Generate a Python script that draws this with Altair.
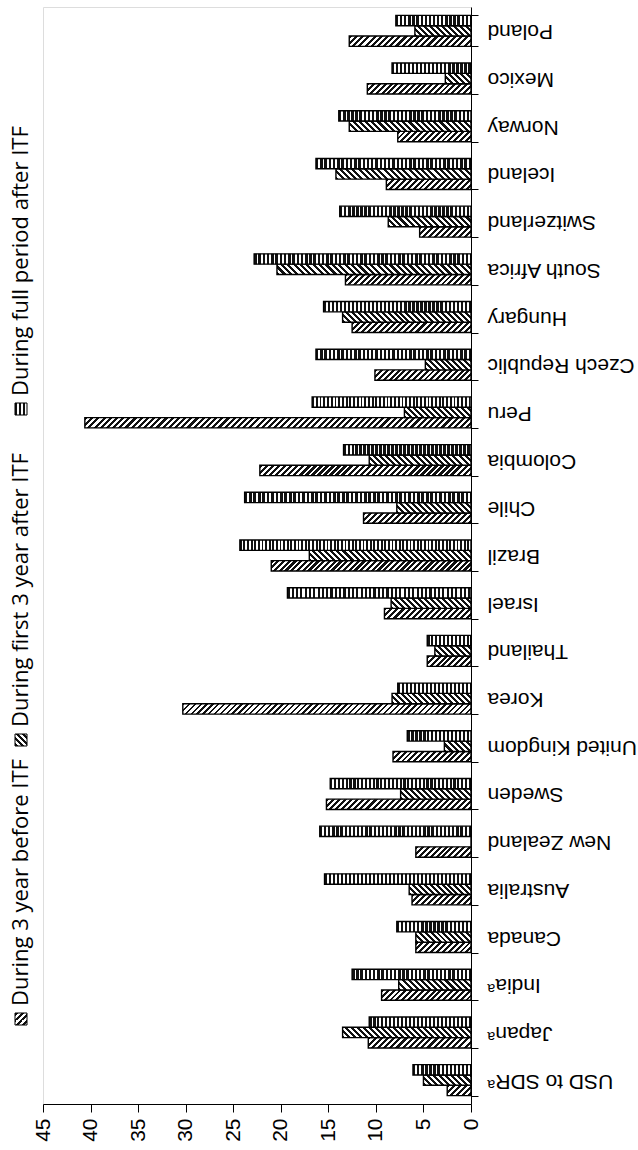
import math
import altair as alt

# ---------------- data ----------------
COUNTRIES = ["USD to SDRᵃ", "Japanᵃ", "Indiaᵃ", "Canada", "Australia", "New Zealand",
             "Sweden", "United Kingdom", "Korea", "Thailand", "Israel", "Brazil", "Chile",
             "Colombia", "Peru", "Czech Republic", "Hungary", "South Africa", "Switzerland",
             "Iceland", "Norway", "Mexico", "Poland"]
SERIES = ["During 3 year before ITF", "During first 3 year after ITF", "During full period after ITF"]
BEFORE = [2.5, 10.8, 9.4, 5.8, 6.2, 5.8, 15.2, 8.2, 30.3, 4.6, 9.1, 21.0, 11.3,
          22.2, 40.6, 10.1, 12.5, 13.2, 5.4, 8.9, 7.7, 10.9, 12.8]
FIRST3 = [5.0, 13.5, 7.6, 5.8, 6.5, 0.0, 7.4, 2.8, 8.3, 3.8, 8.4, 17.0, 7.8,
          10.7, 7.0, 4.8, 13.5, 20.4, 8.7, 14.2, 12.8, 2.7, 5.9]
FULL = [6.1, 10.7, 12.5, 7.8, 15.4, 15.9, 14.8, 6.7, 7.7, 4.6, 19.3, 24.3, 23.8,
        13.4, 16.7, 16.3, 15.5, 22.8, 13.8, 16.3, 13.9, 8.3, 7.9]
X_TICKS = [0, 5, 10, 15, 20, 25, 30, 35, 40, 45]

# ---------------- layout ----------------
PLOT_W, PLOT_H = 428, 1097
PAD = {"left": 43, "top": 7, "right": 638 - 43 - PLOT_W, "bottom": 1150 - 7 - PLOT_H}
X_MAX = 45
BAND_PAD = 0.35
PX_PER_UNIT = PLOT_W / X_MAX
BAR_H = PLOT_H / len(COUNTRIES) * (1 - BAND_PAD) / 3
KINDS = {SERIES[0]: "fwd", SERIES[1]: "back", SERIES[2]: "vert"}
TEX = 256  # gradient lookup resolution


def stripes(n, dark):
    stops = []
    for i in range(int(math.ceil(n))):
        a = min(1.0, i / n)
        b = min(1.0, (i + dark) / n)
        c = min(1.0, (i + 1) / n)
        stops += [{"offset": a, "color": "#111111"}, {"offset": b, "color": "#111111"},
                  {"offset": b, "color": "#ffffff"}, {"offset": c, "color": "#ffffff"}]
    return stops


def stripe_count(span, period, dark):
    k = max(1, round(TEX * period / span))  # texels per stripe, whole number
    if k <= 8:
        dark = max(1, round(k * dark)) / k
    return TEX / k, dark


def pattern(kind, L, h):
    """Hatch fill imitated with a hard-stop linear gradient."""
    if L <= 0:
        return "#ffffff"
    if kind == "vert":
        n, dk = stripe_count(L, 4.0, 0.58)
        return {"gradient": "linear", "x1": 0, "y1": 0, "x2": 1, "y2": 0,
                "stops": stripes(n, dk)}
    k = h / L
    a = (1 + k) / (1 + k * k)
    n, dk = stripe_count(L + h, 6.0, 0.5)
    if kind == "fwd":
        return {"gradient": "linear", "x1": 0, "y1": 0, "x2": a, "y2": a * k,
                "stops": stripes(n, dk)}
    return {"gradient": "linear", "x1": 0, "y1": 1, "x2": a, "y2": 1 - a * k,
            "stops": stripes(n, dk)}


records = []
for ci, c in enumerate(COUNTRIES):
    for s, vals in zip(SERIES, [BEFORE, FIRST3, FULL]):
        v = vals[ci]
        records.append({"country": c, "series": s, "value": v,
                        "pat": pattern(KINDS[s], v * PX_PER_UNIT, BAR_H)})

FONT = "Liberation Sans"

bars = alt.Chart(alt.Data(values=records)).mark_bar(
    stroke="#000000", strokeWidth=1.4
).encode(
    x=alt.X("value:Q",
            scale=alt.Scale(domain=[0, X_MAX], reverse=True, nice=False, zero=True),
            axis=alt.Axis(values=X_TICKS, orient="bottom", title=None, grid=False,
                          labelAngle=270, labelAlign="right", labelBaseline="middle",
                          labelFontSize=21, labelFont=FONT, labelColor="#000000",
                          labelPadding=6, tickSize=8, tickColor="#000000",
                          domainColor="#000000", labelFlush=False, labelOverlap=False)),
    y=alt.Y("country:N", sort=list(reversed(COUNTRIES)),
            scale=alt.Scale(paddingInner=BAND_PAD, paddingOuter=BAND_PAD / 2),
            axis=alt.Axis(orient="right", title=None, grid=False, tickBand="extent",
                          labelAngle=180, labelAlign="right", labelBaseline="middle",
                          labelFontSize=21, labelFont=FONT, labelColor="#000000",
                          labelPadding=9, tickSize=7, tickColor="#000000",
                          domainColor="#000000", labelLimit=400)),
    yOffset=alt.YOffset("series:N", sort=list(reversed(SERIES)),
                        scale=alt.Scale(paddingInner=0, paddingOuter=0)),
    fill=alt.Fill("pat:N", scale=None, legend=None),
)

# ---------------- manual rotated legend ----------------
LEG_Y = {SERIES[0]: 1013, SERIES[1]: 734, SERIES[2]: 403}
layers = [bars]
for s in SERIES:
    y0 = LEG_Y[s] - PAD["top"]
    d = alt.Data(values=[{"series": s}])
    sw = alt.Chart(d).mark_rect(stroke="#000000", strokeWidth=1).encode(
        x=alt.value(-28), x2=alt.value(-16), y=alt.value(y0), y2=alt.value(y0 + 12),
        fill=alt.value(pattern(KINDS[s], 12, 12)),
    )
    tx = alt.Chart(d).mark_text(angle=270, align="left", baseline="middle",
                                fontSize=22, font="Open Sans", color="#000000").encode(
        x=alt.value(-22), y=alt.value(y0 - 7), text="series:N",
    )
    layers += [sw, tx]

chart = alt.layer(*layers).properties(
    width=PLOT_W, height=PLOT_H,
    autosize=alt.AutoSizeParams(type="none"),
    padding=PAD,
).configure_view(strokeWidth=0).configure(background="#ffffff")

chart.save("out.html", embed_options={"renderer": "svg", "actions": False})
